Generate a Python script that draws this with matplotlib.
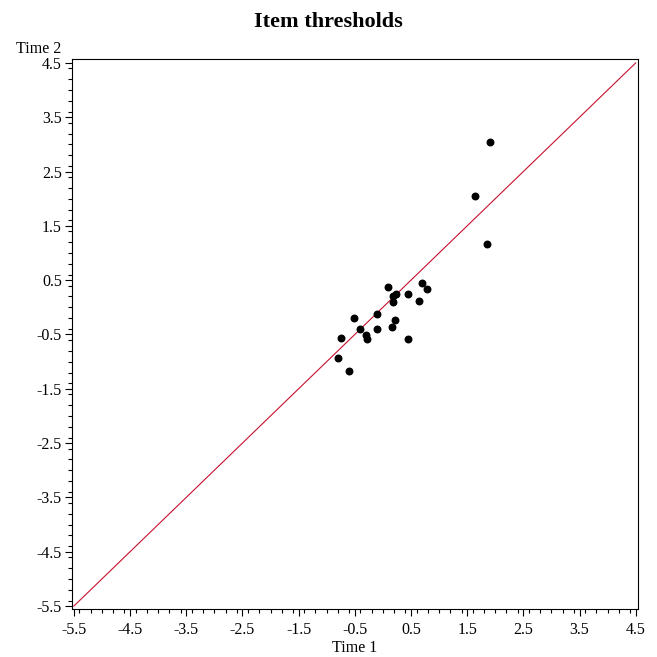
import matplotlib
matplotlib.use("Agg")
import matplotlib.pyplot as plt
import numpy as np
from matplotlib.ticker import MultipleLocator

# item thresholds at the two time points
time1 = [0.10, 0.23, 0.18, 0.18, 0.69, 0.79, 0.45, 0.64, -0.11, -0.51, 0.21,
         -0.41, -0.10, 0.16, -0.30, -0.28, -0.74, 0.44, -0.79, -0.61,
         1.91, 1.64, 1.86]
time2 = [0.38, 0.25, 0.20, 0.10, 0.45, 0.33, 0.25, 0.12, -0.12, -0.20, -0.23,
         -0.39, -0.39, -0.37, -0.51, -0.59, -0.56, -0.58, -0.94, -1.17,
         3.05, 2.05, 1.17]
ticks = [-5.5, -4.5, -3.5, -2.5, -1.5, -0.5, 0.5, 1.5, 2.5, 3.5, 4.5]

plt.rcParams['font.family'] = ['Liberation Serif', 'DejaVu Serif']

fig = plt.figure(figsize=(6.57, 6.57), dpi=100)
ax = fig.add_axes([0.109, 0.073, 0.862, 0.837])

ax.plot([ticks[0], ticks[-1]], [ticks[0], ticks[-1]], color='#c8102e', lw=0.8, zorder=1)
ax.scatter(time1, time2, s=22, color='black', marker='o', zorder=2)

ax.set_xlim(-5.54, 4.54)
ax.set_ylim(-5.555, 4.57)
ax.set_xticks(ticks)
ax.set_yticks(ticks)
ax.set_xticklabels([f'{t:.1f}' for t in ticks])
ax.set_yticklabels([f'{t:.1f}' for t in ticks])
ax.xaxis.set_minor_locator(MultipleLocator(0.2))
ax.yaxis.set_minor_locator(MultipleLocator(0.2))
ax.tick_params(which='major', length=5, width=0.8, labelsize=11.5, direction='out')
ax.tick_params(axis='x', which='major', pad=4)
ax.tick_params(axis='y', which='major', pad=2)
ax.tick_params(which='minor', length=3, width=0.8, direction='out')
ax.tick_params(top=False, right=False)
for sp in ax.spines.values():
    sp.set_linewidth(0.8)

ax.set_xlabel('Time 1', fontsize=11.5, labelpad=2)
fig.text(0.059, 0.919, 'Time 2', fontsize=11.5, ha='center', va='baseline')
fig.suptitle('Item thresholds', fontsize=16, fontweight='bold', y=0.982)

fig.savefig('out.png', dpi=100)
